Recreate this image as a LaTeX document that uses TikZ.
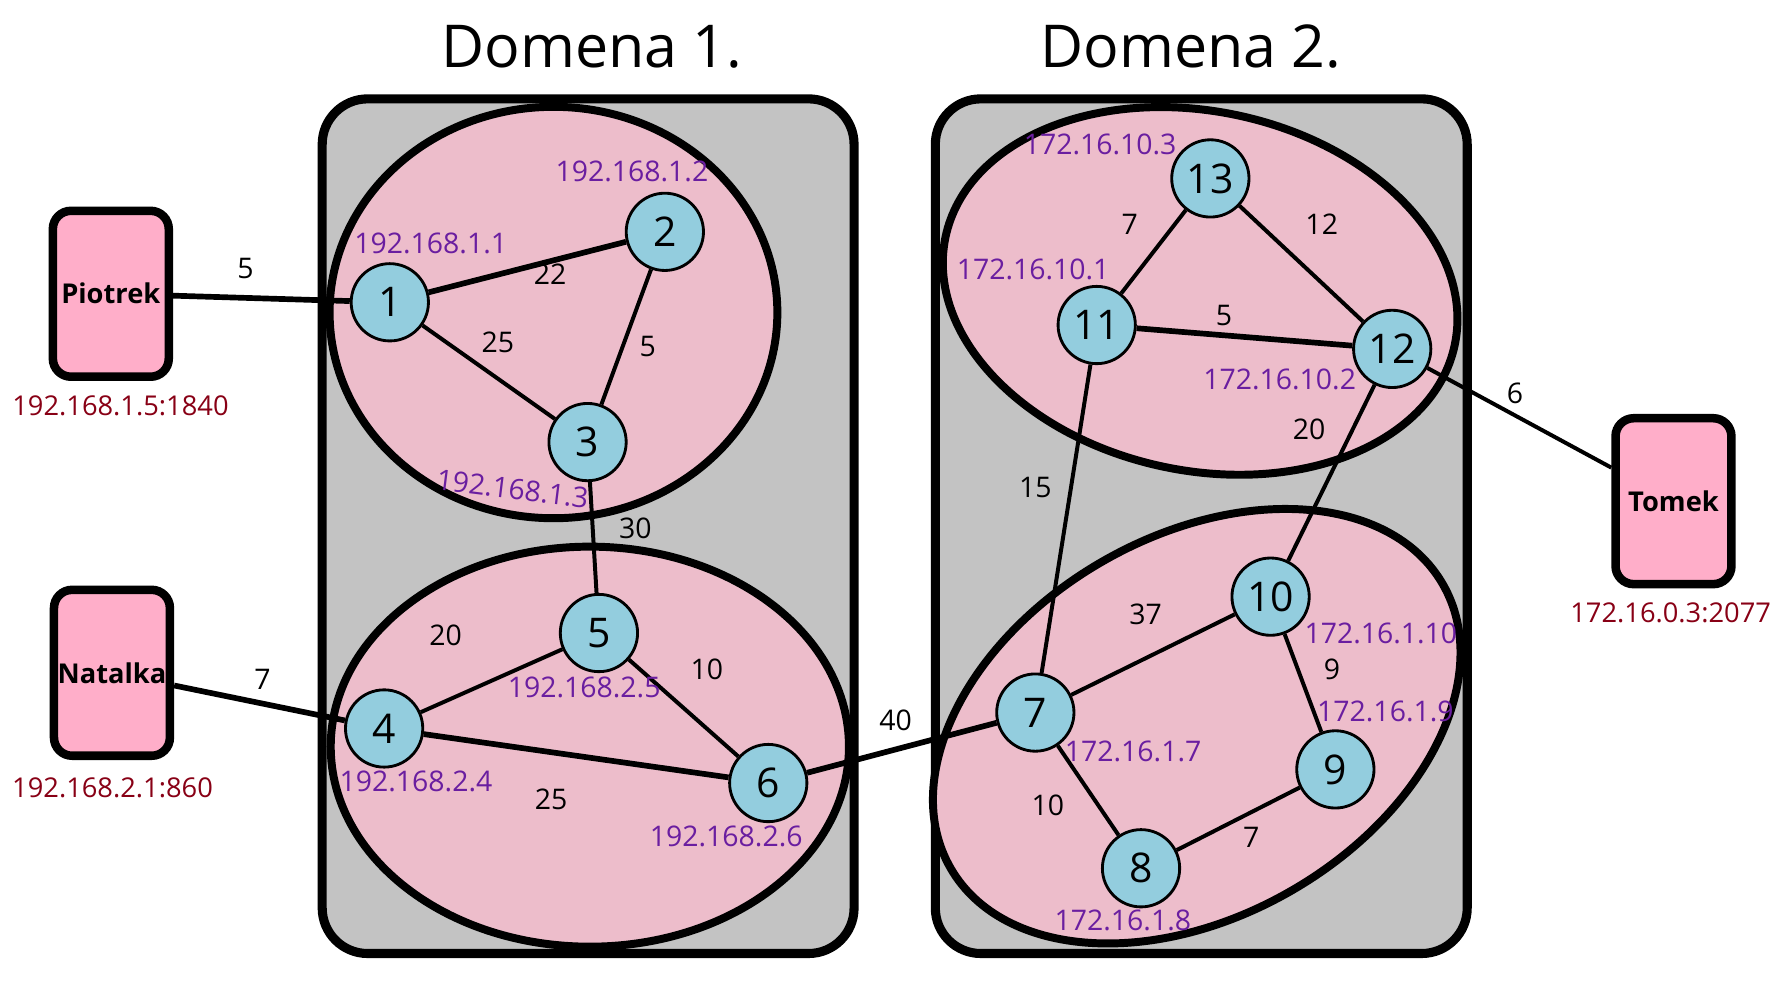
\documentclass[tikz,border=0pt]{standalone}
\usepackage{fontspec}
\setmainfont{Open Sans}
\usetikzlibrary{shapes.geometric,positioning}
\pgfdeclarelayer{backlayer}
\pgfdeclarelayer{edgelayer}
\pgfdeclarelayer{nodelayer}
\pgfsetlayers{backlayer,edgelayer,nodelayer,main}
\definecolor{boxgray}{RGB}{195,195,195}
\definecolor{zonepink}{RGB}{237,189,203}
\definecolor{hostpink}{RGB}{255,174,201}
\definecolor{nodeblue}{RGB}{147,205,222}
\definecolor{ippurple}{RGB}{106,30,160}
\definecolor{hostred}{RGB}{136,0,21}
\tikzstyle{none}=[inner sep=0pt]
\tikzstyle{router}=[circle,fill=nodeblue,draw=black,line width=2.5pt,minimum size=68pt,inner sep=0pt,font=\fontsize{36}{40}\selectfont]
\tikzstyle{host}=[rectangle,rounded corners=16pt,fill=hostpink,draw=black,line width=7.5pt,minimum width=102pt,minimum height=146pt,inner sep=0pt,font=\bfseries\fontsize{24}{28}\selectfont]
\tikzstyle{domainbox}=[rectangle,rounded corners=40pt,fill=boxgray,draw=black,line width=8pt,minimum width=468pt,minimum height=752pt]
\tikzstyle{zone}=[ellipse,fill=zonepink,draw=black,line width=7pt,inner sep=0pt]
\tikzstyle{link}=[-,draw=black,line width=3.5pt]
\tikzstyle{heavylink}=[-,draw=black,line width=5pt]
\tikzstyle{weight}=[inner sep=0pt,font=\fontsize{25}{28}\selectfont]
\tikzstyle{addr}=[inner sep=0pt,text=ippurple,font=\fontsize{25}{28}\selectfont]
\tikzstyle{hostaddr}=[inner sep=0pt,text=hostred,font=\fontsize{24}{28}\selectfont]
\tikzstyle{heading}=[inner sep=0pt,font=\fontsize{52}{60}\selectfont]

\begin{document}
\begin{tikzpicture}[x=1pt,y=1pt]
	\useasboundingbox (0,0) rectangle (1568,886);
	\begin{pgfonlayer}{backlayer}
		\node [style=domainbox] (D1) at (517.5,423) {};
		\node [style=domainbox] (D2) at (1057,423) {};
		\node [style=zone, minimum width=394pt, minimum height=362pt] (ZA) at (487,611) {};
		\node [style=zone, minimum width=456pt, minimum height=352pt] (ZB) at (519,229) {};
		\node [style=zone, minimum width=458pt, minimum height=316pt, rotate=-12] (ZC) at (1056,630) {};
		\node [style=zone, minimum width=500pt, minimum height=334pt, rotate=30] (ZD) at (1053,247) {};
	\end{pgfonlayer}
	\begin{pgfonlayer}{nodelayer}
		\node [style=heading] (T1) at (521,845) {Domena 1.};
		\node [style=heading] (T2) at (1048,845) {Domena 2.};
		\node [style=host] (P) at (97.5,627.5) {Piotrek};
		\node [style=host] (N) at (98.5,294) {Natalka};
		\node [style=host] (T) at (1472.5,445) {Tomek};
		\node [style=hostaddr] (aP) at (106,529) {192.168.1.5:1840};
		\node [style=hostaddr] (aN) at (99,193) {192.168.2.1:860};
		\node [style=hostaddr] (aT) at (1470,347) {172.16.0.3:2077};
		\node [style=router] (n1) at (343,620) {1};
		\node [style=router] (n2) at (585,682) {2};
		\node [style=router] (n3) at (517,497) {3};
		\node [style=router] (n4) at (338,245) {4};
		\node [style=router] (n5) at (527,329) {5};
		\node [style=router] (n6) at (676,197) {6};
		\node [style=router] (n7) at (911,259) {7};
		\node [style=router] (n8) at (1004,122) {8};
		\node [style=router] (n9) at (1175,209) {9};
		\node [style=router] (n10) at (1118,361) {10};
		\node [style=router] (n11) at (965,600) {11};
		\node [style=router] (n12) at (1225,579) {12};
		\node [style=router] (n13) at (1065,729) {13};
		\node [style=addr] (ip1) at (379,672) {192.168.1.1};
		\node [style=addr] (ip2) at (556,735) {192.168.1.2};
		\node [style=addr, rotate=-7] (ip3) at (451,456) {192.168.1.3};
		\node [style=addr] (ip4) at (366,198) {192.168.2.4};
		\node [style=addr] (ip5) at (514,281) {192.168.2.5};
		\node [style=addr] (ip6) at (639,150) {192.168.2.6};
		\node [style=addr] (ip7) at (997,225) {172.16.1.7};
		\node [style=addr] (ip8) at (988,76) {172.16.1.8};
		\node [style=addr] (ip9) at (1219,260) {172.16.1.9};
		\node [style=addr] (ip10) at (1215,329) {172.16.1.10};
		\node [style=addr] (ip11) at (909,649) {172.16.10.1};
		\node [style=addr] (ip12) at (1126,552) {172.16.10.2};
		\node [style=addr] (ip13) at (968,759) {172.16.10.3};
		\node [style=weight] (wP1) at (216,650) {5};
		\node [style=weight] (w12) at (484,645) {22};
		\node [style=weight] (w13) at (438,585) {25};
		\node [style=weight] (w23) at (570,581) {5};
		\node [style=weight] (w35) at (559,421) {30};
		\node [style=weight] (wN4) at (231,288) {7};
		\node [style=weight] (w45) at (392,327) {20};
		\node [style=weight] (w56) at (622,297) {10};
		\node [style=weight] (w46) at (485,183) {25};
		\node [style=weight] (w67) at (788,252) {40};
		\node [style=weight] (w1113) at (994,689) {7};
		\node [style=weight] (w1213) at (1163,689) {12};
		\node [style=weight] (w1112) at (1077,608) {5};
		\node [style=weight] (w711) at (911,457) {15};
		\node [style=weight] (w1012) at (1152,508) {20};
		\node [style=weight] (w12T) at (1333,540) {6};
		\node [style=weight] (w710) at (1008,345) {37};
		\node [style=weight] (w910) at (1172,297) {9};
		\node [style=weight] (w78) at (922,177) {10};
		\node [style=weight] (w89) at (1101,149) {7};
	\end{pgfonlayer}
	\begin{pgfonlayer}{edgelayer}
		\draw [style=heavylink] (P) to (n1);
		\draw [style=heavylink] (n1) to (n2);
		\draw [style=link] (n1) to (n3);
		\draw [style=link] (n2) to (n3);
		\draw [style=link] (n3) to (n5);
		\draw [style=heavylink] (N) to (n4);
		\draw [style=link] (n4) to (n5);
		\draw [style=link] (n5) to (n6);
		\draw [style=heavylink] (n4) to (n6);
		\draw [style=heavylink] (n6) to (n7);
		\draw [style=link] (n11) to (n13);
		\draw [style=link] (n13) to (n12);
		\draw [style=heavylink] (n11) to (n12);
		\draw [style=link] (n11) to (n7);
		\draw [style=link] (n12) to (n10);
		\draw [style=link] (n12) to (T);
		\draw [style=link] (n7) to (n10);
		\draw [style=link] (n10) to (n9);
		\draw [style=link] (n7) to (n8);
		\draw [style=link] (n8) to (n9);
	\end{pgfonlayer}
\end{tikzpicture}
\end{document}
